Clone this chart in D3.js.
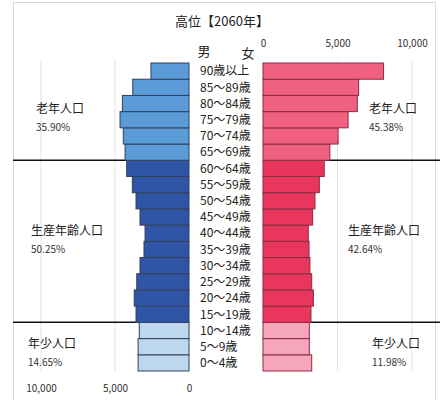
<!DOCTYPE html>
<html>
<head>
<meta charset="utf-8">
<script src="https://cdn.jsdelivr.net/npm/d3@7"></script>
<style>
  body { margin: 0; background: #fff; }
  svg { font-family: "Noto Sans CJK JP", "Noto Sans", sans-serif; }
</style>
</head>
<body>
<svg id="pyramid" width="444" height="400"></svg>
<script>
// age groups, bottom to top
var ages = ['0～4歳', '5～9歳', '10～14歳', '15～19歳', '20～24歳', '25～29歳', '30～34歳',
            '35～39歳', '40～44歳', '45～49歳', '50～54歳', '55～59歳', '60～64歳', '65～69歳',
            '70～74歳', '75～79歳', '80～84歳', '85～89歳', '90歳以上'];
var male = [3440, 3440, 3360, 3580, 3700, 3530, 3310, 3040, 2970, 3310,
            3580, 3830, 4210, 4320, 4440, 4660, 4500, 3800, 2570];
var female = [3270, 3110, 3110, 3220, 3380, 3270, 3150, 3090, 3040, 3330,
              3490, 3780, 4110, 4490, 5040, 5710, 6330, 6420, 8090];
var ageGroup = ['young', 'young', 'young', 'work', 'work', 'work', 'work', 'work', 'work', 'work',
                'work', 'work', 'work', 'old', 'old', 'old', 'old', 'old', 'old'];
var groupNames = ['老年人口', '生産年齢人口', '年少人口'];
var malePct = ['35.90%', '50.25%', '14.65%'];
var femalePct = ['45.38%', '42.64%', '11.98%'];
var ticks = [0, 5000, 10000];

var svg = d3.select('#pyramid');

var xLeft = d3.scaleLinear().domain([0, 10000]).range([189, 41]);
var xRight = d3.scaleLinear().domain([0, 10000]).range([263, 412]);
var y = d3.scaleBand().domain(ages.slice().reverse()).range([63, 371]).padding(0);

var maleColor = { old: '#5b9bd8', work: '#2f56a6', young: '#bdd7ef' };
var femaleColor = { old: '#f0607f', work: '#e8365c', young: '#f5a6bb' };

// frame
svg.append('rect')
    .attr('x', 13.5).attr('y', 2.5)
    .attr('width', 422).attr('height', 410)
    .attr('fill', 'none')
    .attr('stroke', '#d9d9d9');

svg.append('text')
    .attr('x', 222).attr('y', 22)
    .attr('text-anchor', 'middle')
    .attr('dominant-baseline', 'middle')
    .attr('font-size', 13)
    .attr('fill', '#222')
    .text('高位【2060年】');

// gridlines
svg.selectAll('.gl').data(ticks.slice(1)).enter().append('line')
    .attr('x1', d => xLeft(d)).attr('x2', d => xLeft(d))
    .attr('y1', 60).attr('y2', 371)
    .attr('stroke', '#e3e3e3');
svg.selectAll('.gr').data(ticks.slice(1)).enter().append('line')
    .attr('x1', d => xRight(d)).attr('x2', d => xRight(d))
    .attr('y1', 60).attr('y2', 371)
    .attr('stroke', '#e3e3e3');

// group separators
var seps = [y('60～64歳'), y('10～14歳')];
seps.forEach(function(sy) {
  svg.append('line').attr('x1', 13).attr('x2', 189).attr('y1', sy).attr('y2', sy)
      .attr('stroke', '#111').attr('stroke-width', 1.5);
  svg.append('line').attr('x1', 263).attr('x2', 440).attr('y1', sy).attr('y2', sy)
      .attr('stroke', '#111').attr('stroke-width', 1.5);
});

// bars
var rows = ages.map(function(a, i) {
  return { age: a, m: male[i], f: female[i], g: ageGroup[i] };
});

svg.selectAll('.male').data(rows).enter().append('rect')
    .attr('x', d => xLeft(d.m))
    .attr('y', d => y(d.age))
    .attr('width', d => xLeft(0) - xLeft(d.m))
    .attr('height', y.bandwidth())
    .attr('fill', d => maleColor[d.g])
    .attr('stroke', '#30405e')
    .attr('stroke-width', 1);

svg.selectAll('.female').data(rows).enter().append('rect')
    .attr('x', xRight(0))
    .attr('y', d => y(d.age))
    .attr('width', d => xRight(d.f) - xRight(0))
    .attr('height', y.bandwidth())
    .attr('fill', d => femaleColor[d.g])
    .attr('stroke', '#8c2a44')
    .attr('stroke-width', 1);

// age labels
svg.selectAll('.age').data(ages).enter().append('text')
    .attr('x', 200)
    .attr('y', d => y(d) + y.bandwidth() / 2 + 1)
    .attr('dominant-baseline', 'middle')
    .attr('font-size', 12)
    .attr('fill', '#222')
    .text(d => d);

svg.append('text').attr('x', 204).attr('y', 52).attr('text-anchor', 'middle')
    .attr('dominant-baseline', 'middle').attr('font-size', 13).attr('fill', '#222').text('男');
svg.append('text').attr('x', 248).attr('y', 54).attr('text-anchor', 'middle')
    .attr('dominant-baseline', 'middle').attr('font-size', 13).attr('fill', '#222').text('女');

// axes
var fmt = d3.format(',');
var topAxis = svg.append('g')
    .attr('transform', 'translate(0,50)')
    .call(d3.axisTop(xRight).tickValues(ticks).tickFormat(fmt).tickSize(0));
var bottomAxis = svg.append('g')
    .attr('transform', 'translate(0,382)')
    .call(d3.axisBottom(xLeft).tickValues(ticks).tickFormat(fmt).tickSize(0));
[topAxis, bottomAxis].forEach(function(ax) {
  ax.select('.domain').remove();
  ax.selectAll('text')
      .attr('font-family', '"Noto Sans CJK JP", sans-serif')
      .attr('font-size', 10)
      .attr('fill', '#333');
});

// group annotations
var leftX = [36, 31, 28];
var rightX = [369, 348, 372];
var annY = [110, 232, 345];
groupNames.forEach(function(name, i) {
  svg.append('text').attr('x', leftX[i]).attr('y', annY[i])
      .attr('dominant-baseline', 'middle').attr('font-size', 12).attr('fill', '#222').text(name);
  svg.append('text').attr('x', leftX[i]).attr('y', annY[i] + 18)
      .attr('dominant-baseline', 'middle').attr('font-size', 10).attr('fill', '#333').text(malePct[i]);
  svg.append('text').attr('x', rightX[i]).attr('y', annY[i])
      .attr('dominant-baseline', 'middle').attr('font-size', 12).attr('fill', '#222').text(name);
  svg.append('text').attr('x', rightX[i]).attr('y', annY[i] + 18)
      .attr('dominant-baseline', 'middle').attr('font-size', 10).attr('fill', '#333').text(femalePct[i]);
});
</script>
</body>
</html>
